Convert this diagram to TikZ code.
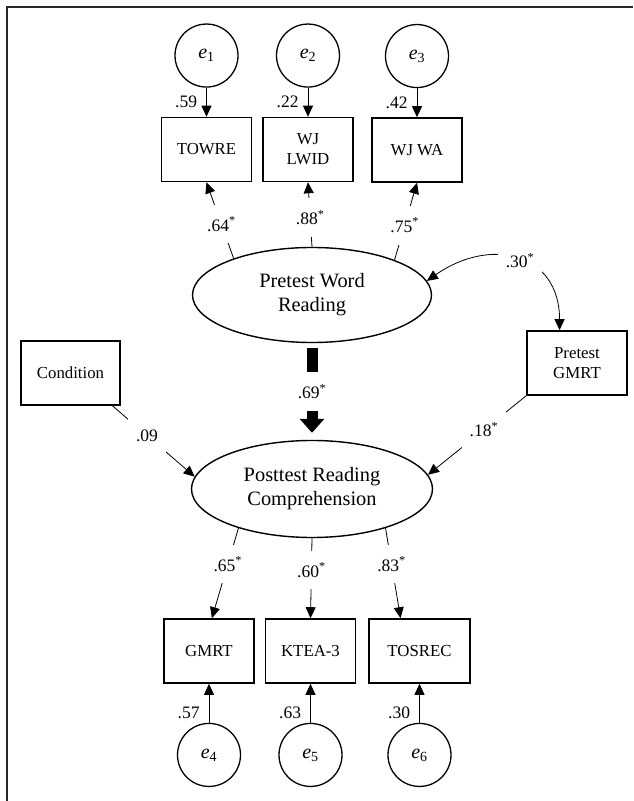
\documentclass[tikz,border=0pt]{standalone}
\usepackage{fontspec}
\setmainfont{Liberation Serif}
\usetikzlibrary{arrows.meta,positioning,shapes.geometric}

\begin{document}
\begin{tikzpicture}[
  x=1pt, y=1pt,
  obs/.style={rectangle, draw, line width=1.6pt, minimum width=90pt,
              minimum height=64pt, align=center,
              font=\fontsize{16.8}{20}\selectfont},
  lat/.style={ellipse, draw, line width=1.4pt, minimum width=239pt,
              minimum height=95pt, align=center,
              font=\fontsize{20.4}{24}\selectfont},
  err/.style={circle, draw, line width=1.3pt, minimum size=63pt,
              inner sep=0pt, font=\fontsize{20}{24}\selectfont},
  arr/.style={-{Triangle[length=11pt,width=10pt]}, line width=0.8pt},
  cov/.style={{Triangle[length=11pt,width=10pt]}-{Triangle[length=11pt,width=10pt]},
              line width=0.8pt},
  fat/.style={-{Triangle[length=14pt,width=24pt]}, line width=11pt,
              shorten <=5pt, shorten >=7pt},
  lbl/.style={fill=white, inner xsep=8pt, inner ysep=12pt,
              font=\fontsize{17.5}{20}\selectfont},
  elbl/.style={inner sep=1pt, font=\fontsize{17.5}{20}\selectfont}
]
  \useasboundingbox (0,0) rectangle (633,801);
  \draw[line width=1.4pt, black!85] (7,0) -- (7,794) -- (633,794);

  % latent variables
  \node[lat] (pwr) at (312,506) {Pretest Word\\Reading};
  \node[lat, minimum width=241pt, minimum height=97pt] (prc) at (312,312)
       {Posttest Reading\\Comprehension};

  % pretest indicators
  \node[obs] (towre) at (206.5,651.5) {TOWRE};
  \node[obs] (lwid)  at (308,651.5) {WJ\\LWID};
  \node[obs] (wjwa)  at (417,651) {WJ WA};
  \node[err] (e1) [above=29pt of towre] {\textit{e}\textsubscript{1}};
  \node[err] (e2) [above=29pt of lwid]  {\textit{e}\textsubscript{2}};
  \node[err] (e3) [above=29pt of wjwa]  {\textit{e}\textsubscript{3}};

  % posttest indicators
  \node[obs] (gmrt) at (209,150) {GMRT};
  \node[obs] (ktea) at (310.5,150) {KTEA-3};
  \node[obs, minimum width=101pt] (tosrec) at (419.5,150) {TOSREC};
  \node[err] (e4) [below=39pt of gmrt]   {\textit{e}\textsubscript{4}};
  \node[err] (e5) [below=39pt of ktea]   {\textit{e}\textsubscript{5}};
  \node[err] (e6) [below=39pt of tosrec] {\textit{e}\textsubscript{6}};

  % covariates
  \node[obs, minimum width=99pt]  (cond)  at (70.5,428) {Condition};
  \node[obs, minimum width=100pt] (pgmrt) at (577,438) {Pretest\\GMRT};

  % residuals
  \foreach \e/\v/\t in {e1/towre/.59, e2/lwid/.22, e3/wjwa/.42}
    \draw[arr] (\e) -- node[elbl, midway, left=8pt] {\t} (\v);
  \foreach \e/\v/\t in {e4/gmrt/.57, e5/ktea/.63, e6/tosrec/.30}
    \draw[arr] (\e) -- node[elbl, pos=.25, left=8pt] {\t} (\v);

  % loadings
  \foreach \a/\v/\t in {155/towre.south/.64, 90/lwid.south/.88, 23/wjwa.south/.75}
    \draw[arr] (pwr.\a) -- node[lbl, pos=.45] {\t\textsuperscript{*}} (\v);
  \foreach \a/\v/\t in {208/gmrt.85/.65, 270/ktea.north/.60, 332/tosrec.120/.83}
    \draw[arr] (prc.\a) -- node[lbl, pos=.4] {\t\textsuperscript{*}} (\v);

  % structural paths
  \draw[fat] (pwr) -- node[lbl] {.69\textsuperscript{*}} (prc);
  \draw[arr] (cond.322) -- node[lbl, pos=.42] {.09} (prc.174);
  \draw[arr] (pgmrt.south west) -- node[lbl, pos=.43] {.18\textsuperscript{*}} (prc.7);
  \draw[cov] (pwr.7) to[out=35, in=90, looseness=1.4]
       node[lbl, pos=.52] {.30\textsuperscript{*}} (pgmrt.118);
\end{tikzpicture}
\end{document}
